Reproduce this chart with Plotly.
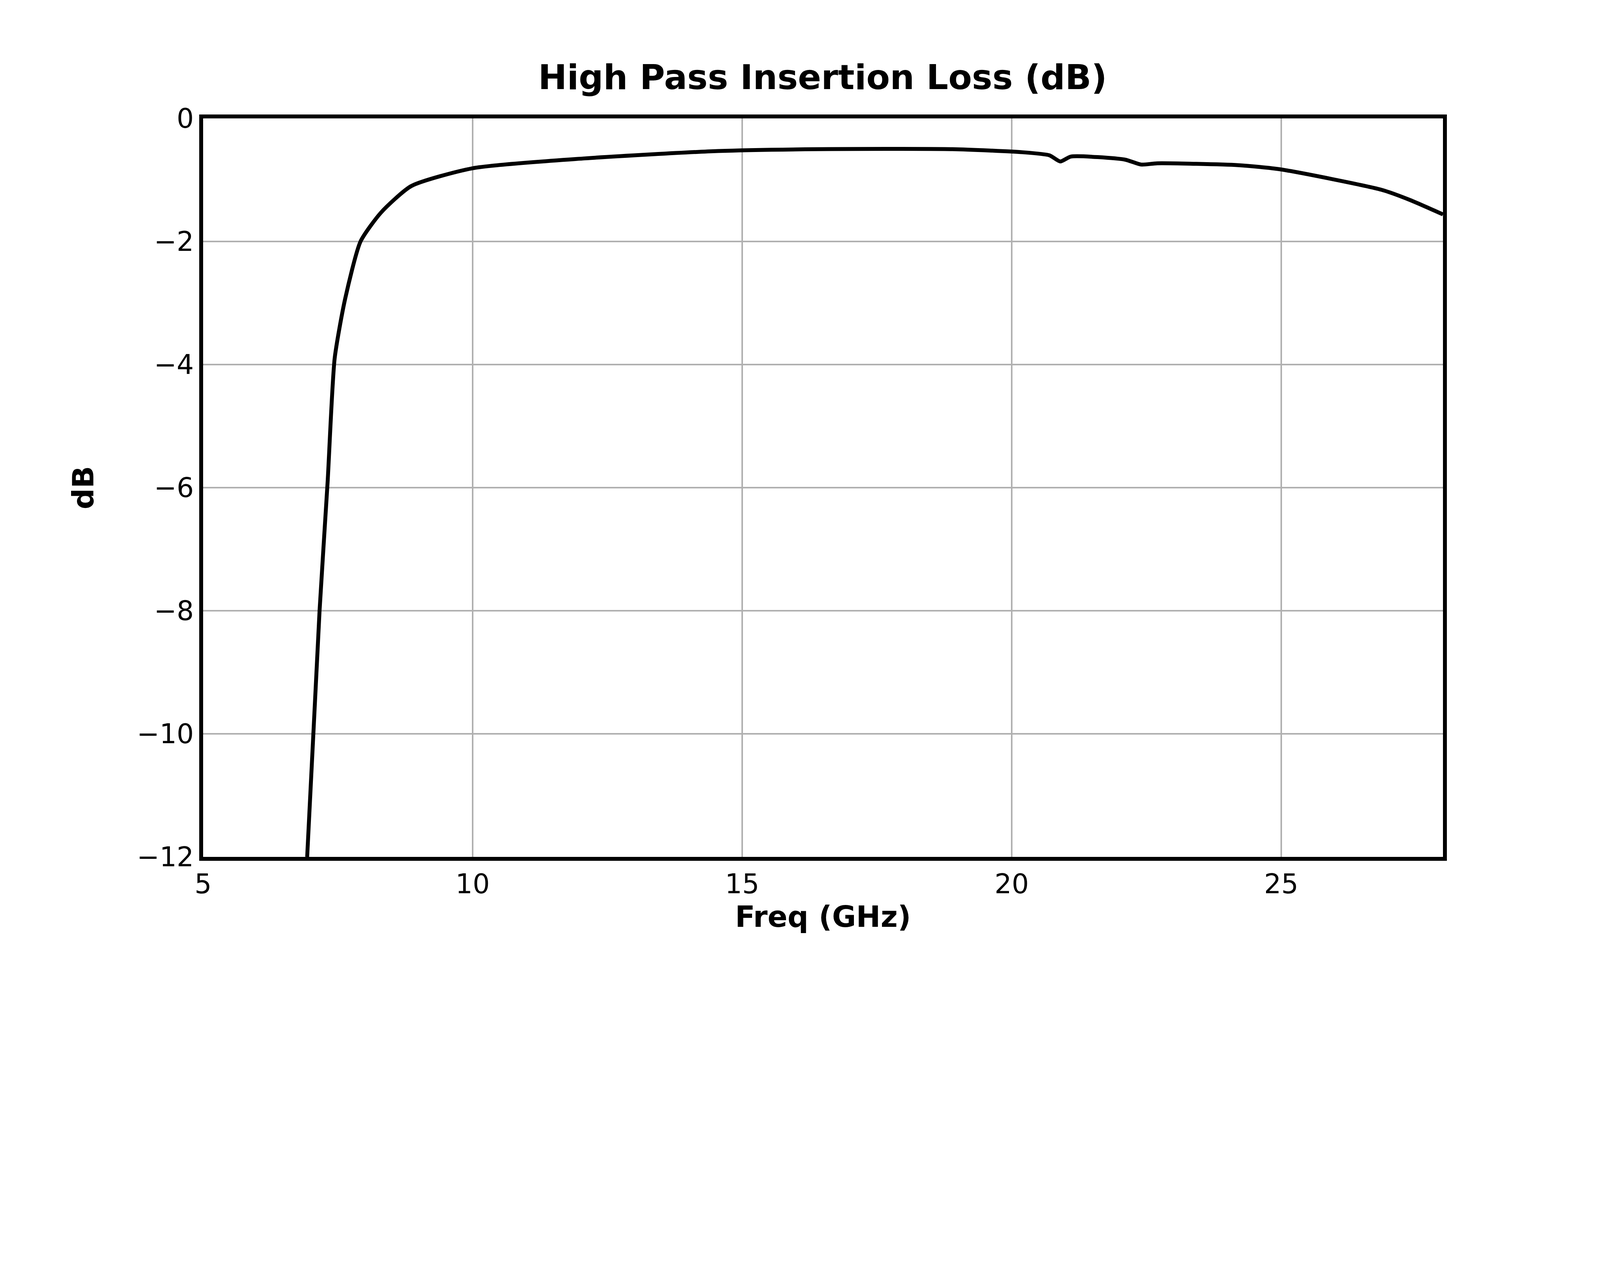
import plotly.graph_objects as go

freq = [6.93, 7.16, 7.31, 7.44, 7.63, 7.92, 8.3, 8.86, 10.0, 12.08, 14.55, 16.4, 18.9,
        20.2, 20.7, 20.9, 21.1, 22.1, 22.4, 22.7, 24.2, 25.0, 26.86, 27.4, 28.0]
loss = [-12.0, -8.0, -5.9, -3.9, -2.95, -2.0, -1.53, -1.1, -0.81, -0.65, -0.53, -0.5, -0.5,
        -0.55, -0.6, -0.7, -0.62, -0.67, -0.75, -0.73, -0.76, -0.83, -1.16, -1.33, -1.56]

fig = go.Figure()
fig.add_trace(go.Scatter(x=freq, y=loss, mode='lines', line=dict(color='black', width=10, shape='spline', smoothing=0.6)))

ax = dict(showgrid=True, gridcolor='#b0b0b0', gridwidth=4, zeroline=False,
          showline=True, mirror=True, linecolor='black', linewidth=10,
          ticks='outside', ticklen=0, tickfont=dict(size=69, color='black'))

fig.update_layout(
    width=4050, height=2430, plot_bgcolor='white', paper_bgcolor='white',
    font=dict(family='DejaVu Sans', color='black'), showlegend=False,
    title=dict(text='<b>High Pass Insertion Loss (dB)</b>', x=0.518, xanchor='center', y=0.935, font=dict(size=88)),
    margin=dict(l=512, r=364, t=295, b=245),
    xaxis=dict(ax, range=[5, 28], tickvals=[5, 10, 15, 20, 25],
               title=dict(text='<b>Freq (GHz)</b>', font=dict(size=75), standoff=20)),
    yaxis=dict(ax, range=[-12, 0], tickvals=[0, -2, -4, -6, -8, -10, -12],
               ticktext=['0', '\u22122', '\u22124', '\u22126', '\u22128', '\u221210', '\u221212'],
               title=dict(text='<b>dB</b>', font=dict(size=75), standoff=90)),
)
fig.write_html("out.html")
